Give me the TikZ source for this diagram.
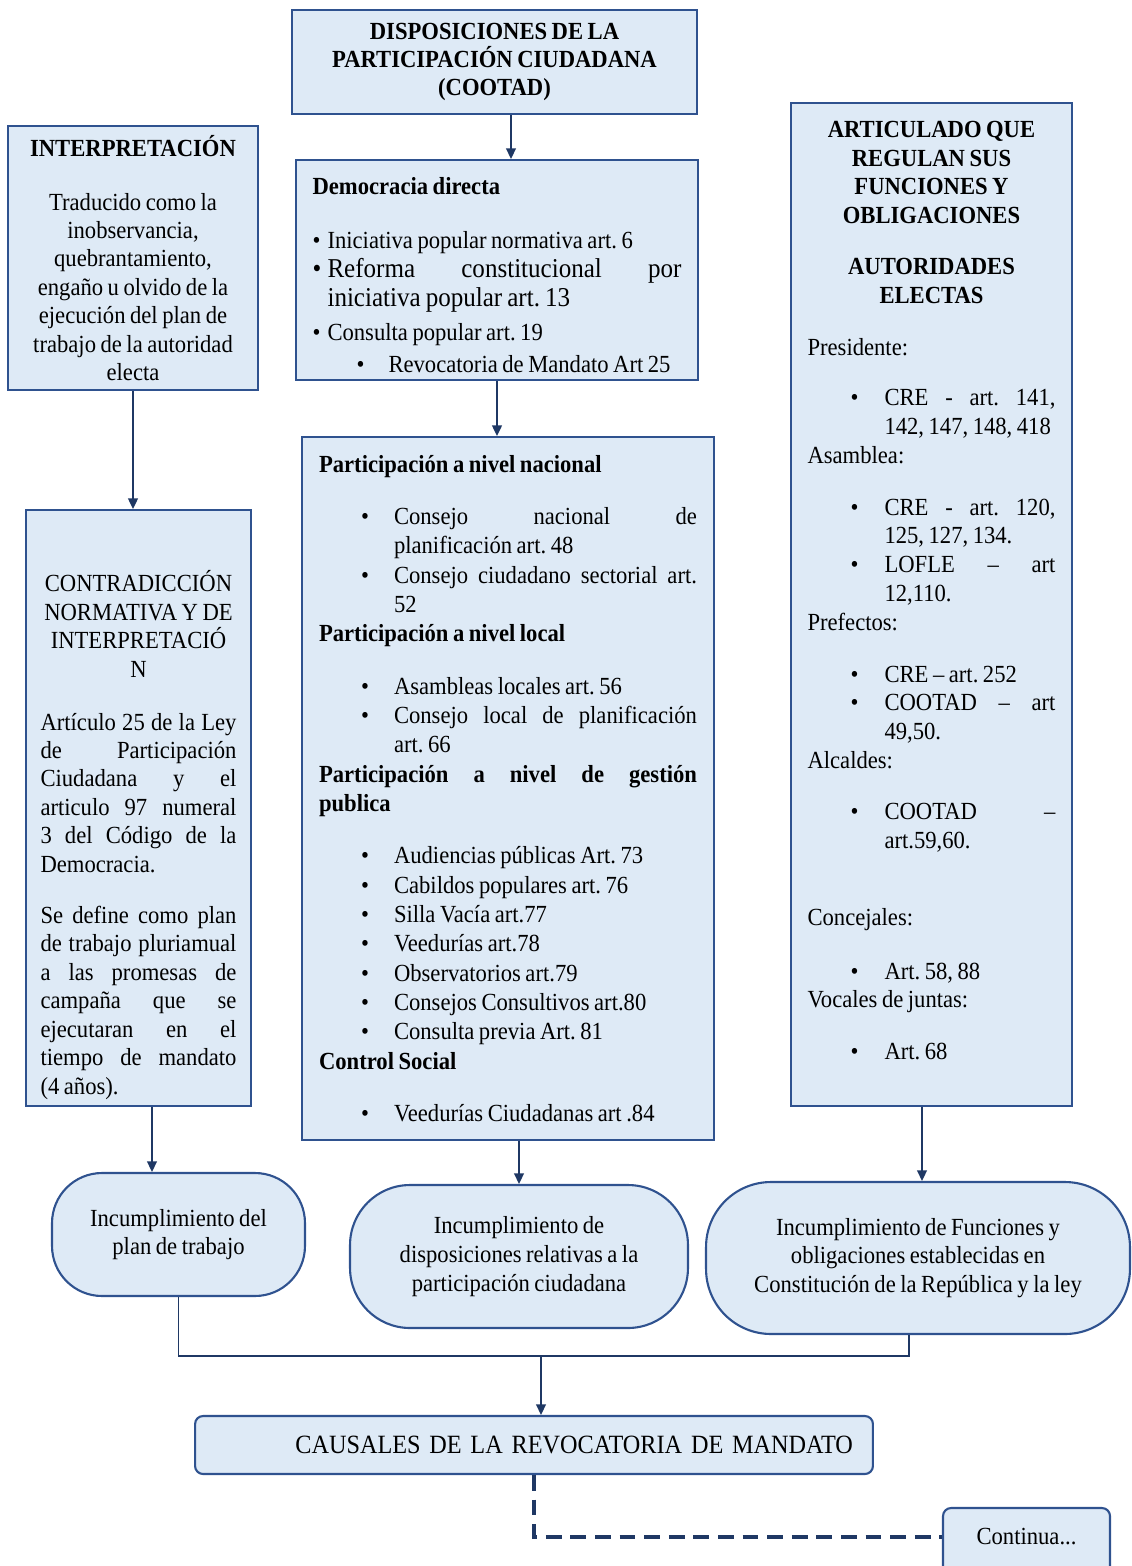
\documentclass[tikz,border=0pt]{standalone}
\usepackage{fontspec}
\setmainfont{Liberation Serif}[FakeStretch=0.92, WordSpace=0.8]
\usetikzlibrary{arrows.meta}

\definecolor{boxfill}{HTML}{DEEAF6}
\definecolor{boxline}{HTML}{2F528F}
\definecolor{arrline}{HTML}{1F3864}

\frenchspacing
\newcommand{\bul}[3]{\par\noindent\hangindent=#2\hangafter=1\makebox[#2][l]{\hspace*{#1}\textbullet}#3\par}
\newcommand{\pitem}[1]{\bul{0.84cm}{1.5cm}{#1}}
\newcommand{\aitem}[1]{\bul{0.86cm}{1.54cm}{#1}}
\newcommand{\tailskip}[1]{\par\vspace{#1}\hrule height 0pt}

\begin{document}
\begin{tikzpicture}[x=0.02cm, y=-0.02cm,
    box/.style={draw=boxline, fill=boxfill, line width=1.2pt, inner sep=0pt,
      execute at begin node={\setlength{\parindent}{0pt}\frenchspacing}},
    listbox/.style={box, align=justify},
    roundbox/.style={box, align=center, font=\fontsize{14}{16.4}\selectfont},
    arr/.style={draw=arrline, line width=1.1pt, -{Triangle[length=6pt,width=5.5pt]}},
    link/.style={draw=arrline, line width=1.1pt},
    dashlink/.style={draw=arrline, line width=2.2pt, dash pattern=on 9pt off 5pt}]

            \useasboundingbox (0,0) rectangle (1132,1566);

            \coordinate (p1) at (494.5,62);
            \coordinate (p2) at (497,270);
            \coordinate (p3) at (133,258);
            \coordinate (p4) at (138.5,808);
            \coordinate (p5) at (508,788.5);
            \coordinate (p6) at (931.5,604.5);
            \coordinate (p7) at (178.5,1234.5);
            \coordinate (p8) at (519,1256.5);
            \coordinate (p9) at (918,1258);
            \coordinate (p10) at (534,1445);
            \coordinate (p11) at (1026.5,1544);
            \coordinate (join) at (541,1356);

            \node[box, minimum width=8.1cm, minimum height=2.08cm, align=center,
              font=\fontsize{14}{16.2}\selectfont\bfseries] (disp) at (p1)
              {DISPOSICIONES DE LA\\PARTICIPACIÓN CIUDADANA\\(COOTAD)};

            \node[listbox, minimum width=8.04cm, minimum height=4.4cm, text width=7.38cm,
              font=\fontsize{14}{16.4}\selectfont] (demo) at (p2) {%
              \textbf{Democracia directa}\par\vspace{14.7pt}
              \bul{0pt}{0.3cm}{Iniciativa popular normativa art. 6}
              {\fontsize{15.5}{16.4}\selectfont\bul{0pt}{0.3cm}{Reforma constitucional por \linebreak iniciativa popular art. 13}}
              \vspace{3pt}
              \bul{0pt}{0.3cm}{Consulta popular art. 19}
              \vspace{2pt}
              \bul{0.88cm}{1.52cm}{Revocatoria de Mandato Art 25}
              \tailskip{-0.2cm}};

            \node[box, minimum width=5cm, minimum height=5.28cm, align=center,
              font=\fontsize{14}{16.2}\selectfont] (interp) at (p3)
              {\textbf{INTERPRETACIÓN}\\[14.5pt]Traducido como la\\inobservancia,\\quebrantamiento,\\engaño u olvido de la\\ejecución del plan de\\trabajo de la autoridad\\electa};

            \node[listbox, minimum width=4.5cm, minimum height=11.92cm, text width=3.92cm,
              font=\fontsize{14}{16.2}\selectfont] (contra) at (p4) {%
              {\centering CONTRADICCIÓN\par NORMATIVA Y DE\par INTERPRETACIÓ\par N\par}\vspace{13.9pt}
              Artículo 25 de la Ley \linebreak de Participación \linebreak Ciudadana y el \linebreak articulo 97 numeral \linebreak 3 del Código de la \linebreak Democracia.\par\vspace{12.8pt}
              Se define como plan \linebreak de trabajo pluriamual \linebreak a las promesas de \linebreak campaña que se \linebreak ejecutaran en el \linebreak tiempo de mandato \linebreak (4 años).
              \tailskip{-1.08cm}};

            \node[listbox, minimum width=8.24cm, minimum height=14.06cm, text width=7.56cm,
              font=\fontsize{14}{16.7}\selectfont] (partic) at (p5) {%
              \textbf{Participación a nivel nacional}\par\vspace{13pt}
              \pitem{Consejo nacional de \linebreak planificación art. 48}
              \pitem{Consejo ciudadano sectorial art. \linebreak 52}
              \textbf{Participación a nivel local}\par\vspace{13pt}
              \pitem{Asambleas locales art. 56}
              \pitem{Consejo local de planificación \linebreak art. 66}
              \textbf{Participación a nivel de gestión \linebreak publica}\par\vspace{13pt}
              \pitem{Audiencias públicas Art. 73}
              \pitem{Cabildos populares art. 76}
              \pitem{Silla Vacía art.77}
              \pitem{Veedurías art.78}
              \pitem{Observatorios art.79}
              \pitem{Consejos Consultivos art.80}
              \pitem{Consulta previa Art. 81}
              \textbf{Control Social}\par\vspace{13pt}
              \pitem{Veedurías Ciudadanas art .84}};

            \node[listbox, minimum width=5.62cm, minimum height=20.06cm, text width=4.96cm,
              font=\fontsize{14}{16.4}\selectfont] (artic) at (p6) {%
              {\centering\bfseries ARTICULADO QUE\par REGULAN SUS\par FUNCIONES Y\par OBLIGACIONES\par\vspace{12.5pt}AUTORIDADES\par ELECTAS\par}\vspace{13pt}
              Presidente:\par\vspace{12.5pt}
              \aitem{CRE - art. 141, \linebreak 142, 147, 148, 418}
              Asamblea:\par\vspace{13pt}
              \aitem{CRE - art. 120, \linebreak 125, 127, 134.}
              \aitem{LOFLE – art \linebreak 12,110.}
              Prefectos:\par\vspace{13pt}
              \aitem{CRE – art. 252}
              \aitem{COOTAD – art \linebreak 49,50.}
              Alcaldes:\par\vspace{12.5pt}
              \aitem{COOTAD – \linebreak art.59,60.}
              \vspace{27.8pt}
              Concejales:\par\vspace{14pt}
              \aitem{Art. 58, 88}
              Vocales de juntas:\par\vspace{13pt}
              \aitem{Art. 68}
              \tailskip{0.56cm}};

            \node[roundbox, rounded corners=1cm, minimum width=5.06cm, minimum height=2.46cm] (inc1) at (p7)
              {Incumplimiento del\\plan de trabajo};
            \node[roundbox, rounded corners=1.2cm, minimum width=6.76cm, minimum height=2.86cm] (inc2) at (p8)
              {Incumplimiento de\\disposiciones relativas a la\\participación ciudadana};
            \node[roundbox, rounded corners=1.3cm, minimum width=8.48cm, minimum height=3.04cm] (inc3) at (p9)
              {Incumplimiento de Funciones y\\obligaciones establecidas en\\Constitución de la República y la ley};

            \node[box, rounded corners=0.16cm, minimum width=13.56cm, minimum height=1.16cm, text width=12.76cm,
              align=right, font=\fontsize{15}{18}\selectfont] (causal) at (p10)
              {CAUSALES DE LA REVOCATORIA DE MANDATO};

            \node[box, rounded corners=0.16cm, minimum width=3.34cm, minimum height=1.44cm,
              text height=8pt, text depth=8pt, font=\fontsize{14}{16}\selectfont] (cont) at (p11)
              {Continua...};

            \coordinate (a1) at ([xshift=0.33cm]disp.south);
            \coordinate (a4) at ([xshift=0.27cm]contra.south);
            \coordinate (a6) at ([xshift=-0.19cm]artic.south);
            \coordinate (a7) at ([xshift=-0.18cm]inc3.south);
            \coordinate (a9) at ([yshift=0.14cm]cont.west);

            \draw[arr] (a1) -- (a1 |- demo.north);
            \draw[arr] (demo.south) -- (demo.south |- partic.north);
            \draw[arr] (interp.south) -- (interp.south |- contra.north);
            \draw[arr] (a4) -- (a4 |- inc1.north);
            \draw[arr] (inc2.north |- partic.south) -- (inc2.north);
            \draw[arr] (a6) -- (a6 |- inc3.north);

            \draw[link] (inc1.south) |- (join) -| (a7);
            \draw[arr] (join) -- (join |- causal.north);
            \draw[dashlink] (causal.south) |- (a9);

            \end{tikzpicture}
\end{document}
